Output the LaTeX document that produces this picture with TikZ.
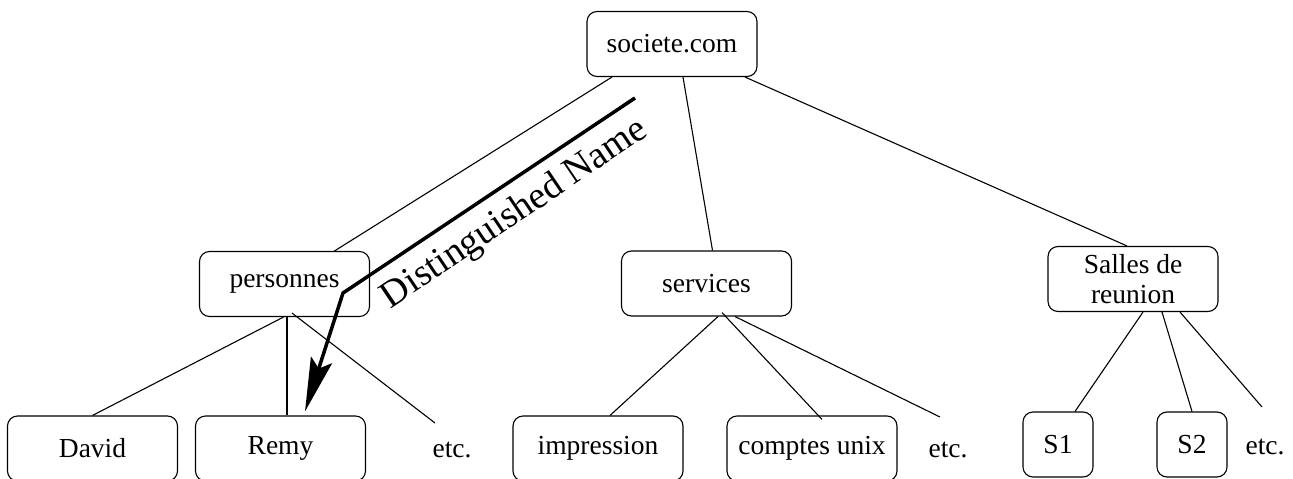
\documentclass[tikz,border=0pt]{standalone}
\usepackage{fontspec}
\setmainfont{Liberation Serif}
\usetikzlibrary{arrows.meta}
\begin{document}
\begin{tikzpicture}[x=1pt,y=-1pt]
		\tikzset{entry/.style = {shape=rectangle, rounded corners=10pt, line width=1.1pt, draw, minimum width=170pt, minimum height=65pt, inner sep=0pt, align=center, font=\fontsize{27.5}{30}\selectfont}}
		\tikzset{room/.style = {entry, minimum width=70pt}}
		\tikzset{more/.style = {inner sep=0pt, font=\fontsize{27.5}{30}\selectfont}}
		\tikzset{branch/.style = {line width=1.1pt}}
		\useasboundingbox (0,0) rectangle (1293,479);
		% top of the tree
		\node[entry] (SOC) at (672,44) {societe.com};
		% second level
		\node[entry] (PER) at (284.5,284) {personnes};
		\node[entry] (SER) at (706.5,283.5) {services};
		\node[entry] (SAL) at (1133,279) {Salles de\\reunion};
		% leaves
		\node[entry] (DAV) at (92.5,448.5) {David};
		\node[entry] (REM) at (280.5,448.5) {Remy};
		\node[more] (ETCA) at (452,450) {etc.};
		\node[entry] (IMP) at (598,448.5) {impression};
		\node[entry] (COM) at (812,448.5) {comptes unix};
		\node[more] (ETCB) at (948,450) {etc.};
		\node[room] (SA) at (1058,444.5) {S1};
		\node[room] (SB) at (1192,444.5) {S2};
		\node[more] (ETCC) at (1265,447) {etc.};
		
		\draw[branch] ([xshift=-60pt]SOC.south) -- ([xshift=50pt]PER.north);
		\draw[branch] ([xshift=11pt]SOC.south) -- ([xshift=6pt]SER.north);
		\draw[branch] ([xshift=73pt]SOC.south) -- ([xshift=-6pt]SAL.north);
		
		\draw[branch] ([xshift=-1pt]PER.south) -- (DAV.north);
		\draw[branch] ([xshift=2.5pt]PER.south) -- ([xshift=6.5pt]REM.north);
		\draw[branch] ([xshift=7.5pt,yshift=4pt]PER.south) -- ([xshift=-17pt,yshift=27pt]ETCA.center);
		
		\draw[branch] ([xshift=11.5pt]SER.south) -- ([xshift=12pt]IMP.north);
		\draw[branch] ([xshift=15.5pt,yshift=4pt]SER.south) -- ([xshift=10pt,yshift=-4pt]COM.north);
		\draw[branch] ([xshift=28.5pt]SER.south) -- ([xshift=-8pt,yshift=33pt]ETCB.center);
		
		\draw[branch] ([xshift=10pt]SAL.south) -- ([xshift=17pt]SA.north);
		\draw[branch] ([xshift=29pt]SAL.south) -- (SB.north);
		\draw[branch] ([xshift=47pt]SAL.south) -- ([xshift=-3pt,yshift=40pt]ETCC.center);
		
		% the distinguished name path
		\coordinate (DNSTART) at (635,98);
		\coordinate (DNBEND) at (343,293);
		\draw[line width=3.5pt, -{Stealth[length=54pt,width=22pt,inset=9pt]}] (DNSTART) -- (DNBEND) -- ([xshift=24.5pt,yshift=4pt]REM.north);
		\node[rotate=34, anchor=base, inner sep=0pt, font=\fontsize{38}{40}\selectfont] (DN) at (520,222) {Distinguished Name};
		
\end{tikzpicture}
\end{document}
